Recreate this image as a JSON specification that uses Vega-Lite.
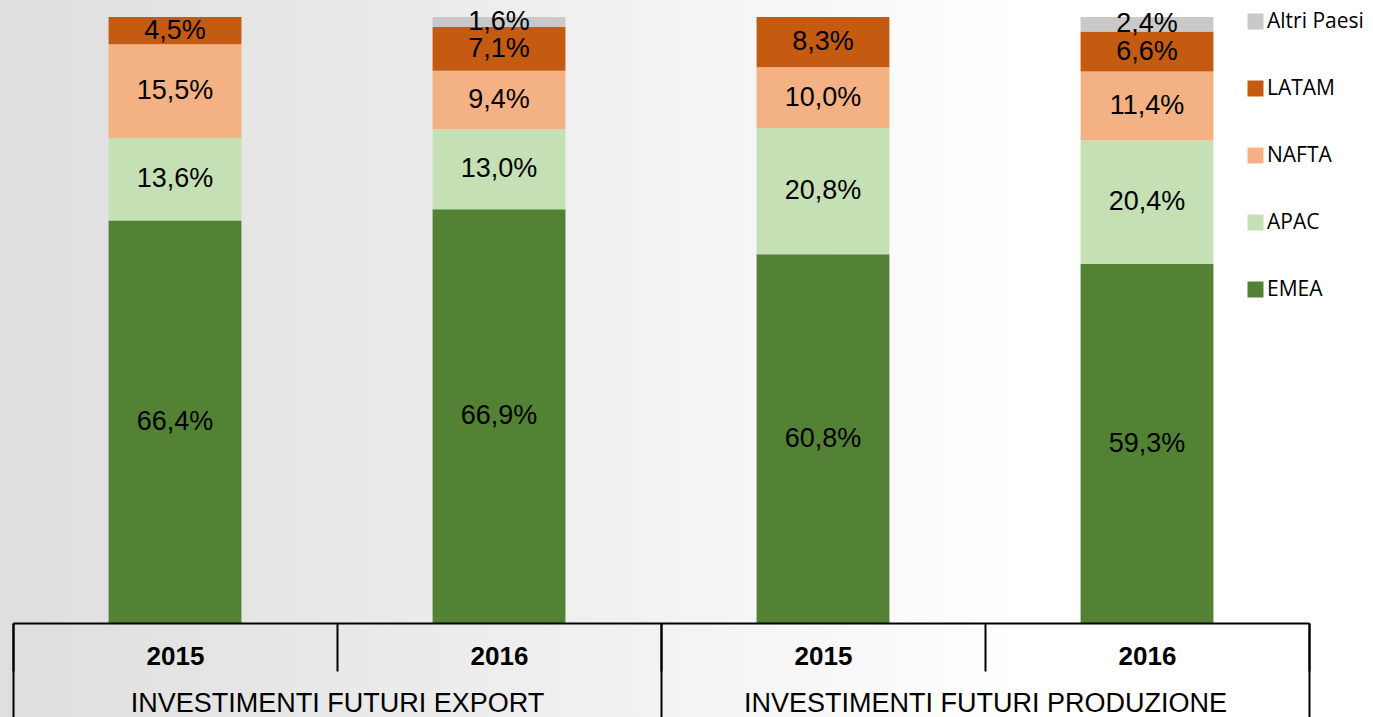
{
  "$schema": "https://vega.github.io/schema/vega-lite/v6.json",
  "width": 1373,
  "height": 717,
  "padding": 0,
  "autosize": {"type": "none"},
  "background": "#ffffff",
  "config": {
    "view": {"stroke": null},
    "locale": {"number": {"decimal": ",", "thousands": ".", "grouping": [3], "currency": ["", " €"]}}
  },
  "data": {
    "values": [
      {"group": "INVESTIMENTI FUTURI EXPORT", "year": "2015", "bar": "EXPORT 2015", "region": "EMEA", "value": 0.664},
      {"group": "INVESTIMENTI FUTURI EXPORT", "year": "2015", "bar": "EXPORT 2015", "region": "APAC", "value": 0.136},
      {"group": "INVESTIMENTI FUTURI EXPORT", "year": "2015", "bar": "EXPORT 2015", "region": "NAFTA", "value": 0.155},
      {"group": "INVESTIMENTI FUTURI EXPORT", "year": "2015", "bar": "EXPORT 2015", "region": "LATAM", "value": 0.045},
      {"group": "INVESTIMENTI FUTURI EXPORT", "year": "2016", "bar": "EXPORT 2016", "region": "EMEA", "value": 0.669},
      {"group": "INVESTIMENTI FUTURI EXPORT", "year": "2016", "bar": "EXPORT 2016", "region": "APAC", "value": 0.130},
      {"group": "INVESTIMENTI FUTURI EXPORT", "year": "2016", "bar": "EXPORT 2016", "region": "NAFTA", "value": 0.094},
      {"group": "INVESTIMENTI FUTURI EXPORT", "year": "2016", "bar": "EXPORT 2016", "region": "LATAM", "value": 0.071},
      {"group": "INVESTIMENTI FUTURI EXPORT", "year": "2016", "bar": "EXPORT 2016", "region": "Altri Paesi", "value": 0.016},
      {"group": "INVESTIMENTI FUTURI PRODUZIONE", "year": "2015", "bar": "PRODUZIONE 2015", "region": "EMEA", "value": 0.608},
      {"group": "INVESTIMENTI FUTURI PRODUZIONE", "year": "2015", "bar": "PRODUZIONE 2015", "region": "APAC", "value": 0.208},
      {"group": "INVESTIMENTI FUTURI PRODUZIONE", "year": "2015", "bar": "PRODUZIONE 2015", "region": "NAFTA", "value": 0.100},
      {"group": "INVESTIMENTI FUTURI PRODUZIONE", "year": "2015", "bar": "PRODUZIONE 2015", "region": "LATAM", "value": 0.083},
      {"group": "INVESTIMENTI FUTURI PRODUZIONE", "year": "2016", "bar": "PRODUZIONE 2016", "region": "EMEA", "value": 0.593},
      {"group": "INVESTIMENTI FUTURI PRODUZIONE", "year": "2016", "bar": "PRODUZIONE 2016", "region": "APAC", "value": 0.204},
      {"group": "INVESTIMENTI FUTURI PRODUZIONE", "year": "2016", "bar": "PRODUZIONE 2016", "region": "NAFTA", "value": 0.114},
      {"group": "INVESTIMENTI FUTURI PRODUZIONE", "year": "2016", "bar": "PRODUZIONE 2016", "region": "LATAM", "value": 0.066},
      {"group": "INVESTIMENTI FUTURI PRODUZIONE", "year": "2016", "bar": "PRODUZIONE 2016", "region": "Altri Paesi", "value": 0.024}
    ]
  },
  "transform": [
    {"calculate": "indexof(['EMEA','APAC','NAFTA','LATAM','Altri Paesi'], datum.region)", "as": "stackOrder"}
  ],
  "layer": [
    {
      "data": {"values": [{}]},
      "transform": [],
      "mark": {
        "type": "rect",
        "fill": {
          "gradient": "linear",
          "x1": 0, "y1": 0, "x2": 1, "y2": 0,
          "stops": [
            {"offset": 0, "color": "#dedede"},
            {"offset": 0.45, "color": "#f1f1f1"},
            {"offset": 0.75, "color": "#ffffff"},
            {"offset": 1, "color": "#ffffff"}
          ]
        }
      },
      "encoding": {}
    },
    {
      "encoding": {
        "x": {
          "field": "bar",
          "type": "nominal",
          "sort": ["EXPORT 2015", "EXPORT 2016", "PRODUZIONE 2015", "PRODUZIONE 2016"],
          "scale": {"type": "band", "range": [13, 1309], "paddingInner": 0, "paddingOuter": 0},
          "axis": {
            "orient": "bottom",
            "offset": -94,
            "zindex": 2,
            "title": null,
            "labelExpr": "slice(datum.label, -4)",
            "labelAngle": 0,
            "labelFont": "Liberation Sans",
            "labelFontSize": 26,
            "labelFontWeight": "bold",
            "labelColor": "#000000",
            "labelBaseline": "middle",
            "labelPadding": -15,
            "domain": true,
            "domainColor": "#000000",
            "domainWidth": 2,
            "ticks": true,
            "tickBand": "extent",
            "tickSize": 48,
            "tickColor": "#000000",
            "tickWidth": 2,
            "grid": false
          }
        },
        "y": {
          "field": "value",
          "type": "quantitative",
          "stack": "normalize",
          "scale": {"range": [623, 17], "nice": false},
          "axis": null
        },
        "order": {"field": "stackOrder", "type": "quantitative", "sort": "ascending"}
      },
      "layer": [
        {
          "mark": {"type": "bar", "width": {"band": 0.41}},
          "encoding": {
            "color": {
              "field": "region",
              "type": "nominal",
              "scale": {
                "domain": ["Altri Paesi", "LATAM", "NAFTA", "APAC", "EMEA"],
                "range": ["#c9c9c9", "#c55a11", "#f4b183", "#c5e0b4", "#548235"]
              },
              "legend": {
                "orient": "none",
                "legendX": 1245,
                "legendY": 11,
                "title": null,
                "symbolType": "square",
                "symbolSize": 256,
                "symbolStrokeWidth": 0,
                "labelFont": "Open Sans",
                "labelFontSize": 21,
                "labelColor": "#000000",
                "labelOffset": 1,
                "rowPadding": 45
              }
            }
          }
        },
        {
          "mark": {"type": "text", "font": "Liberation Sans", "fontSize": 27, "color": "#000000", "baseline": "middle"},
          "encoding": {
            "x": {"field": "bar", "type": "nominal", "bandPosition": 0.5, "sort": ["EXPORT 2015", "EXPORT 2016", "PRODUZIONE 2015", "PRODUZIONE 2016"]},
            "y": {"field": "value", "type": "quantitative", "stack": "normalize", "bandPosition": 0.5},
            "detail": {"field": "region", "type": "nominal"},
            "text": {"field": "value", "type": "quantitative", "format": ".1%"}
          }
        }
      ]
    },
    {
      "mark": {"type": "point", "opacity": 0},
      "encoding": {
        "x": {
          "field": "group",
          "type": "nominal",
          "sort": ["INVESTIMENTI FUTURI EXPORT", "INVESTIMENTI FUTURI PRODUZIONE"],
          "scale": {"type": "band", "range": [13, 1309], "paddingInner": 0, "paddingOuter": 0},
          "axis": {
            "orient": "bottom",
            "offset": -94,
            "zindex": 2,
            "title": null,
            "labelAngle": 0,
            "labelLimit": 0,
            "labelFont": "Liberation Sans",
            "labelFontSize": 27,
            "labelColor": "#000000",
            "labelBaseline": "middle",
            "labelPadding": -20,
            "domain": false,
            "ticks": true,
            "tickBand": "extent",
            "tickSize": 100,
            "tickColor": "#000000",
            "tickWidth": 2,
            "grid": false
          }
        }
      }
    }
  ],
  "resolve": {"scale": {"x": "independent"}, "axis": {"x": "independent"}}
}
